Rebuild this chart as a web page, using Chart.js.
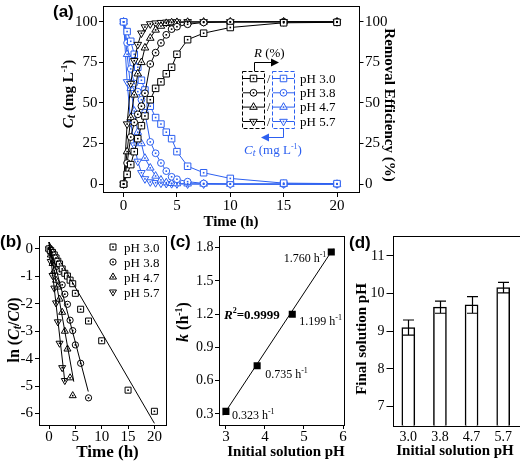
<!DOCTYPE html>
<html>
<head>
<meta charset="utf-8">
<script src="https://cdn.jsdelivr.net/npm/chart.js@4.4.1/dist/chart.umd.min.js"></script>
<style>
html, body { margin: 0; padding: 0; background: #fff; }
#wrap { position: relative; width: 520px; height: 463px; overflow: hidden; }
#wrap canvas { position: absolute; left: 0; top: 0; }
</style>
</head>
<body>
<div id="wrap">
  <canvas id="chartA" width="520" height="463"></canvas>
  <canvas id="chartB" width="520" height="463"></canvas>
  <canvas id="chartC" width="520" height="463"></canvas>
  <canvas id="chartD" width="520" height="463"></canvas>
</div>
<script>
// ---- data ----
const hours = [0, 0.33, 0.67, 1, 1.33, 1.67, 2, 2.5, 3, 3.5, 4, 4.5, 5, 6, 7.5, 10, 15, 20];
const phNames = ['pH 3.0', 'pH 3.8', 'pH 4.7', 'pH 5.7'];

// removal efficiency R (%)
const removal30 = [0, 6, 12, 20, 28, 36, 42, 52, 59, 63, 68, 72, 80, 89, 93, 96.5, 99.4, 99.7];
const removal38 = [0, 13, 29, 38, 43, 48, 56, 74, 81, 87, 92, 95.5, 97, 98.5, 99.6, 99.9, 100, 100];
const removal47 = [0, 20, 41, 55, 68, 75, 84, 90, 95, 97.4, 99.1, 99.5, 99.7, 99.8, 99.9, 100, 100, 100];
const removal57 = [0, 37, 62, 76, 86, 93, 96.8, 98.7, 99.2, 99.5, 99.7, 99.8, 99.9, 100, 100, 100, 100, 100];

// concentration Ct (mg/L)
const conc30 = [100, 94, 88, 80, 72, 64, 58, 48, 41, 37, 32, 28, 20, 11, 7, 3.5, 0.6, 0.3];
const conc38 = [100, 87, 71, 62, 57, 52, 44, 26, 19, 13, 8, 4.5, 3, 1.5, 0.4, 0.1, 0, 0];
const conc47 = [100, 80, 59, 45, 32, 25, 16, 10, 5, 2.6, 0.9, 0.5, 0.3, 0.2, 0.1, 0, 0, 0];
const conc57 = [100, 63, 38, 24, 14, 7, 3.2, 1.3, 0.8, 0.5, 0.3, 0.2, 0.1, 0, 0, 0, 0, 0];

// ln(Ct/C0), panel (b)
const lnC30 = [0, -0.06, -0.13, -0.22, -0.33, -0.45, -0.55, -0.73, -0.89, -0.99, -1.14, -1.27, -1.62, -2.2, -2.63, -3.35, -5.15, -5.92];
const lnC38 = [0, -0.14, -0.34, -0.48, -0.56, -0.65, -0.82, -1.31, -1.65, -2.02, -2.6, -2.98, -3.5, -4.17, -5.43];
const lnC47 = [0, -0.22, -0.53, -0.8, -1.14, -1.39, -1.83, -2.31, -3.0, -3.65, -4.7, -5.35];
const lnC57 = [0, -0.46, -0.97, -1.43, -1.97, -2.66, -3.44, -4.33, -4.8];
const fitB = [
  [[0, 0.25], [20, -6.36]],
  [[0, 0.25], [7.45, -5.2]],
  [[0, 0.25], [4.7, -4.84]],
  [[0, 0.25], [3.0, -4.84]]
];

// panel (c)
const initialPH = [3.0, 3.8, 4.7, 5.7];
const rateK = [0.323, 0.735, 1.199, 1.760];
const rateText = ['0.323', '0.735', '1.199', '1.760'];
const rateFitX = [2.93, 5.75];
const rateFitY = [0.287, 1.79];

// panel (d)
const finalCats = ['3.0', '3.8', '4.7', '5.7'];
const finalPH = [9.1, 9.64, 9.7, 10.16];
const finalErr = [0.2, 0.16, 0.22, 0.14];

// tick values
const ticksTime = [0, 5, 10, 15, 20];
const ticksPct = [0, 25, 50, 75, 100];
const ticksLn = [0, -1, -2, -3, -4, -5, -6];
const ticksPHc = [3, 4, 5, 6];
const ticksK = [0.3, 0.6, 0.9, 1.2, 1.5, 1.8];
const ticksFinal = [7, 8, 9, 10, 11];

// ---- styles ----
const SERIF = '"Liberation Serif", "Times New Roman", serif';
const SANS = '"Liberation Sans", Arial, sans-serif';
const BLUE = '#2d60f0';
const F = (style, size) => `${style} ${size}px ${SERIF}`;
const marks = [
  { pointStyle: 'rect', radius: 4.6, rotation: 0 },
  { pointStyle: 'circle', radius: 3.4, rotation: 0 },
  { pointStyle: 'triangle', radius: 4.4, rotation: 0 },
  { pointStyle: 'triangle', radius: 4.4, rotation: 180 }
];

const pts = (xs, ys) => ys.map((y, i) => ({ x: xs[i], y: y }));

function rich(ctx, x, y, parts, opt) {
  opt = opt || {};
  ctx.save();
  ctx.translate(x, y);
  if (opt.rot) ctx.rotate(opt.rot);
  ctx.fillStyle = opt.color || '#000';
  ctx.textBaseline = 'alphabetic';
  ctx.textAlign = 'left';
  let w = 0;
  parts.forEach(p => { ctx.font = p.f; w += ctx.measureText(p.t).width; });
  let cx = opt.align === 'center' ? -w / 2 : (opt.align === 'right' ? -w : 0);
  parts.forEach(p => {
    ctx.font = p.f;
    ctx.fillText(p.t, cx, p.dy || 0);
    cx += ctx.measureText(p.t).width;
  });
  ctx.restore();
}

function marker(ctx, m, color, x, y) {
  ctx.save();
  ctx.strokeStyle = color;
  ctx.fillStyle = '#fff';
  ctx.lineWidth = 1;
  Chart.helpers.drawPoint(ctx, { pointStyle: m.pointStyle, radius: m.radius, rotation: m.rotation, borderWidth: 1 }, x, y);
  ctx.fillStyle = color;
  ctx.fillRect(x - 0.8, y - 0.8, 1.6, 1.6);
  ctx.restore();
}

function linAxis(o) {
  return {
    type: 'linear', position: o.pos, min: o.min, max: o.max,
    afterBuildTicks: s => { s.ticks = o.ticks.map(v => ({ value: v })); },
    afterFit: s => {
      if (o.w != null) s.width = o.w;
      if (o.h != null) s.height = o.h;
      s.paddingTop = 0; s.paddingBottom = 0; s.paddingLeft = 0; s.paddingRight = 0;
    },
    grid: { display: true, drawOnChartArea: false, drawTicks: true, tickLength: o.tl, tickWidth: 1, tickColor: '#000' },
    border: { display: false },
    ticks: {
      color: '#000', padding: o.pad, maxRotation: 0, autoSkip: false,
      font: { family: SERIF, size: o.fs, lineHeight: 1 },
      callback: o.fmt || (v => String(v))
    }
  };
}

function boxPlugin(draw) {
  return {
    id: 'decor',
    afterDraw(chart) {
      const ctx = chart.ctx;
      const a = chart.chartArea;
      ctx.save();
      ctx.strokeStyle = '#000';
      ctx.lineWidth = 1;
      ctx.strokeRect(Math.round(a.left) + 0.5, Math.round(a.top) + 0.5,
        Math.round(a.right - a.left), Math.round(a.bottom - a.top));
      ctx.restore();
      draw(chart, ctx);
    }
  };
}

const innerDots = {
  id: 'innerDots',
  afterDatasetsDraw(chart) {
    const ctx = chart.ctx;
    chart.data.datasets.forEach((ds, i) => {
      if (!ds.dotColor) return;
      ctx.fillStyle = ds.dotColor;
      chart.getDatasetMeta(i).data.forEach(p => ctx.fillRect(p.x - 0.8, p.y - 0.8, 1.6, 1.6));
    });
  }
};

const base = {
  responsive: false, animation: false, events: [],
  plugins: { legend: { display: false }, tooltip: { enabled: false } }
};

function seriesDs(xs, ys, color, m) {
  return {
    data: pts(xs, ys), showLine: true, borderColor: color, borderWidth: 1,
    pointStyle: m.pointStyle, pointRadius: m.radius, pointRotation: m.rotation,
    pointBackgroundColor: '#fff', pointBorderColor: color, pointBorderWidth: 1,
    dotColor: color
  };
}

// ---- panel (a) ----
const removalSets = [removal30, removal38, removal47, removal57];
const concSets = [conc30, conc38, conc47, conc57];
const dsA = [];
removalSets.forEach((r, i) => dsA.push(seriesDs(hours, r, '#000', marks[i])));
concSets.forEach((c, i) => dsA.push(seriesDs(hours, c, BLUE, marks[i])));

new Chart(document.getElementById('chartA'), {
  type: 'scatter',
  data: { datasets: dsA },
  options: Object.assign({}, base, {
    layout: { padding: { left: 0, right: 0, top: 4, bottom: 223 } },
    scales: {
      x: linAxis({ pos: 'bottom', min: -1.93, max: 22.06, ticks: ticksTime, h: 48, tl: 5, pad: 2, fs: 15 }),
      y: linAxis({ pos: 'left', min: -4.87, max: 110, ticks: ticksPct, w: 103, tl: 4, pad: 1.5, fs: 15 }),
      y2: linAxis({ pos: 'right', min: -4.87, max: 110, ticks: ticksPct, w: 161, tl: 4.5, pad: 1.5, fs: 15 })
    }
  }),
  plugins: [innerDots, boxPlugin((chart, ctx) => {
    ctx.save();
    ctx.fillStyle = '#000';
    ctx.font = `bold 17px ${SANS}`;
    ctx.fillText('(a)', 53, 17);
    ctx.restore();
    rich(ctx, 73, 94, [
      { t: 'C', f: F('italic bold', 15) }, { t: 't', f: F('italic bold', 12), dy: 2 },
      { t: ' (mg L', f: F('bold', 15) }, { t: '-1', f: F('bold', 9), dy: -6 }, { t: ')', f: F('bold', 15) }
    ], { rot: -Math.PI / 2, align: 'center' });
    rich(ctx, 385, 105, [{ t: 'Removal Efficiency (%)', f: F('bold', 15) }], { rot: Math.PI / 2, align: 'center' });
    rich(ctx, 231, 226, [{ t: 'Time (h)', f: F('bold', 15) }], { align: 'center' });

    // legend
    const rows = [78, 92.3, 106.6, 121];
    ctx.save();
    ctx.lineWidth = 1;
    ctx.setLineDash([4, 2]);
    ctx.strokeStyle = '#000';
    ctx.strokeRect(242.5, 71.5, 22, 57);
    ctx.strokeStyle = BLUE;
    ctx.strokeRect(272.5, 71.5, 22, 57);
    ctx.setLineDash([]);
    rows.forEach((y, i) => {
      ctx.strokeStyle = '#000';
      ctx.beginPath(); ctx.moveTo(243, y + 0.5); ctx.lineTo(264, y + 0.5); ctx.stroke();
      marker(ctx, marks[i], '#000', 253.5, y + 0.5);
      ctx.strokeStyle = BLUE;
      ctx.beginPath(); ctx.moveTo(273, y + 0.5); ctx.lineTo(294, y + 0.5); ctx.stroke();
      marker(ctx, marks[i], BLUE, 283.5, y + 0.5);
      ctx.fillStyle = '#000';
      ctx.font = F('normal', 12);
      ctx.fillText('/', 267, y + 4.5);
      ctx.font = F('normal', 13);
      ctx.fillText(phNames[i], 300, y + 4.5);
    });
    // R arrow
    ctx.strokeStyle = '#000'; ctx.fillStyle = '#000';
    ctx.beginPath(); ctx.moveTo(254.5, 71); ctx.lineTo(254.5, 62.5); ctx.lineTo(272, 62.5); ctx.stroke();
    ctx.beginPath(); ctx.moveTo(271, 58.5); ctx.lineTo(279, 62.5); ctx.lineTo(271, 66.5); ctx.closePath(); ctx.fill();
    // Ct arrow
    ctx.strokeStyle = BLUE; ctx.fillStyle = BLUE;
    ctx.beginPath(); ctx.moveTo(283.5, 128); ctx.lineTo(283.5, 137.5); ctx.lineTo(268, 137.5); ctx.stroke();
    ctx.beginPath(); ctx.moveTo(269, 133.5); ctx.lineTo(261, 137.5); ctx.lineTo(269, 141.5); ctx.closePath(); ctx.fill();
    ctx.restore();
    rich(ctx, 254, 57, [{ t: 'R', f: F('italic', 13) }, { t: ' (%)', f: F('normal', 13) }]);
    rich(ctx, 273, 154, [
      { t: 'C', f: F('italic', 13) }, { t: 't', f: F('italic', 10), dy: 2 },
      { t: ' (mg L', f: F('normal', 13) }, { t: '-1', f: F('normal', 8), dy: -5 }, { t: ')', f: F('normal', 13) }
    ], { color: BLUE, align: 'center' });
  })]
});

// ---- panel (b) ----
const lnSets = [lnC30, lnC38, lnC47, lnC57];
const marksB = marks.map(m => Object.assign({}, m, { radius: m.radius * 0.92 }));
const dsB = [];
fitB.forEach(f => dsB.push({
  data: f.map(p => ({ x: p[0], y: p[1] })), showLine: true, borderColor: '#000', borderWidth: 1, pointRadius: 0
}));
lnSets.forEach((l, i) => {
  const d = seriesDs(hours, l, '#000', marksB[i]);
  d.showLine = false;
  dsB.push(d);
});

new Chart(document.getElementById('chartB'), {
  type: 'scatter',
  data: { datasets: dsB },
  options: Object.assign({}, base, {
    layout: { padding: { left: 0, right: 354, top: 236, bottom: 0 } },
    scales: {
      x: linAxis({ pos: 'bottom', min: -1.9, max: 22.2, ticks: ticksTime, h: 38, tl: 4, pad: 1, fs: 15 }),
      y: linAxis({ pos: 'left', min: -6.42, max: 0.47, ticks: ticksLn, w: 39, tl: 4, pad: 2, fs: 15 })
    }
  }),
  plugins: [innerDots, boxPlugin((chart, ctx) => {
    ctx.save();
    ctx.fillStyle = '#000';
    ctx.font = `bold 17px ${SANS}`;
    ctx.fillText('(b)', 0, 247);
    const rows = [247, 262, 277, 292];
    rows.forEach((y, i) => {
      marker(ctx, marksB[i], '#000', 113, y);
      ctx.fillStyle = '#000';
      ctx.font = F('normal', 13);
      ctx.fillText(phNames[i], 124, y + 4.5);
    });
    ctx.restore();
    rich(ctx, 19, 330, [
      { t: 'ln (', f: F('bold', 16) }, { t: 'C', f: F('italic bold', 16) }, { t: 't', f: F('italic bold', 12), dy: 2 },
      { t: '/', f: F('bold', 16) }, { t: 'C0', f: F('italic bold', 16) }, { t: ')', f: F('bold', 16) }
    ], { rot: -Math.PI / 2, align: 'center' });
    rich(ctx, 107.5, 457, [{ t: 'Time (h)', f: F('bold', 17) }], { align: 'center' });
  })]
});

// ---- panel (c) ----
// label offsets from each point: [dx, dy, align]
const rateOffsets = [[6, 8, 'left'], [8, 12.5, 'left'], [7, 11, 'left'], [-5, 10, 'right']];
new Chart(document.getElementById('chartC'), {
  type: 'scatter',
  data: {
    datasets: [
      { data: pts(rateFitX, rateFitY), showLine: true, borderColor: '#000', borderWidth: 1, pointRadius: 0 },
      { data: pts(initialPH, rateK), pointStyle: 'rect', pointRadius: 5, pointBackgroundColor: '#000', pointBorderColor: '#000', pointBorderWidth: 0 }
    ]
  },
  options: Object.assign({}, base, {
    layout: { padding: { left: 170, right: 177, top: 236, bottom: 0 } },
    scales: {
      x: linAxis({ pos: 'bottom', min: 2.81, max: 6.0, ticks: ticksPHc, h: 38, tl: 4, pad: 1, fs: 15 }),
      y: linAxis({ pos: 'left', min: 0.2, max: 1.905, ticks: ticksK, w: 48.5, tl: 3.5, pad: 1.5, fs: 14, fmt: v => v.toFixed(1) })
    }
  }),
  plugins: [boxPlugin((chart, ctx) => {
    ctx.save();
    ctx.fillStyle = '#000';
    ctx.font = `bold 17px ${SANS}`;
    ctx.fillText('(c)', 170, 247);
    ctx.restore();
    const xs = chart.scales.x, ys = chart.scales.y;
    rateK.forEach((k, i) => {
      const px = xs.getPixelForValue(initialPH[i]);
      const py = ys.getPixelForValue(k);
      const o = rateOffsets[i];
      rich(ctx, px + o[0], py + o[1], [
        { t: rateText[i] + ' h', f: F('normal', 12) }, { t: '-1', f: F('normal', 8), dy: -5 }
      ], { align: o[2] });
    });
    rich(ctx, 224, 319, [
      { t: 'R', f: F('italic bold', 13) }, { t: '2', f: F('bold', 8), dy: -6 }, { t: '=0.9999', f: F('bold', 13) }
    ]);
    rich(ctx, 188, 322, [
      { t: 'k', f: F('italic bold', 16) }, { t: ' (h', f: F('bold', 16) }, { t: '-1', f: F('bold', 10), dy: -6 }, { t: ')', f: F('bold', 16) }
    ], { rot: -Math.PI / 2, align: 'center' });
    rich(ctx, 286, 456, [{ t: 'Initial solution pH', f: F('bold', 15) }], { align: 'center' });
  })]
});

// ---- panel (d) ----
const errorBars = {
  id: 'errorBars',
  afterDatasetsDraw(chart) {
    const ctx = chart.ctx, ys = chart.scales.y;
    ctx.save();
    ctx.strokeStyle = '#000';
    ctx.lineWidth = 1.2;
    chart.getDatasetMeta(0).data.forEach((bar, i) => {
      const top = ys.getPixelForValue(finalPH[i] + finalErr[i]);
      const bot = ys.getPixelForValue(finalPH[i] - finalErr[i]);
      const x = Math.round(bar.x) + 0.5;
      ctx.beginPath();
      ctx.moveTo(x, top); ctx.lineTo(x, bot);
      ctx.moveTo(x - 5.5, top); ctx.lineTo(x + 5.5, top);
      ctx.moveTo(x - 5.5, bot); ctx.lineTo(x + 5.5, bot);
      ctx.stroke();
    });
    ctx.restore();
  }
};

const xD = {
  type: 'category', position: 'bottom', offset: true,
  afterFit: s => { s.height = 37.5; s.paddingLeft = 0; s.paddingRight = 0; },
  grid: { display: false, drawTicks: false },
  border: { display: false },
  ticks: { color: '#000', padding: 5, maxRotation: 0, autoSkip: false, font: { family: SERIF, size: 14, lineHeight: 1 } }
};

new Chart(document.getElementById('chartD'), {
  type: 'bar',
  data: {
    labels: finalCats,
    datasets: [{ data: finalPH, backgroundColor: '#fff', borderColor: '#000', borderWidth: 1.5, barThickness: 13 }]
  },
  options: Object.assign({}, base, {
    layout: { padding: { left: 340, right: 1, top: 236, bottom: 0 } },
    scales: {
      x: xD,
      y: linAxis({ pos: 'left', min: 6.5, max: 11.53, ticks: ticksFinal, w: 52.5, tl: 6, pad: 2, fs: 14 })
    }
  }),
  plugins: [errorBars, boxPlugin((chart, ctx) => {
    ctx.save();
    ctx.fillStyle = '#000';
    ctx.font = `bold 17px ${SANS}`;
    ctx.fillText('(d)', 349, 248);
    ctx.restore();
    rich(ctx, 366, 339, [{ t: 'Final solution pH', f: F('bold', 15) }], { rot: -Math.PI / 2, align: 'center' });
    rich(ctx, 455, 455, [{ t: 'Initial solution pH', f: F('bold', 15) }], { align: 'center' });
  })]
});
</script>
</body>
</html>
